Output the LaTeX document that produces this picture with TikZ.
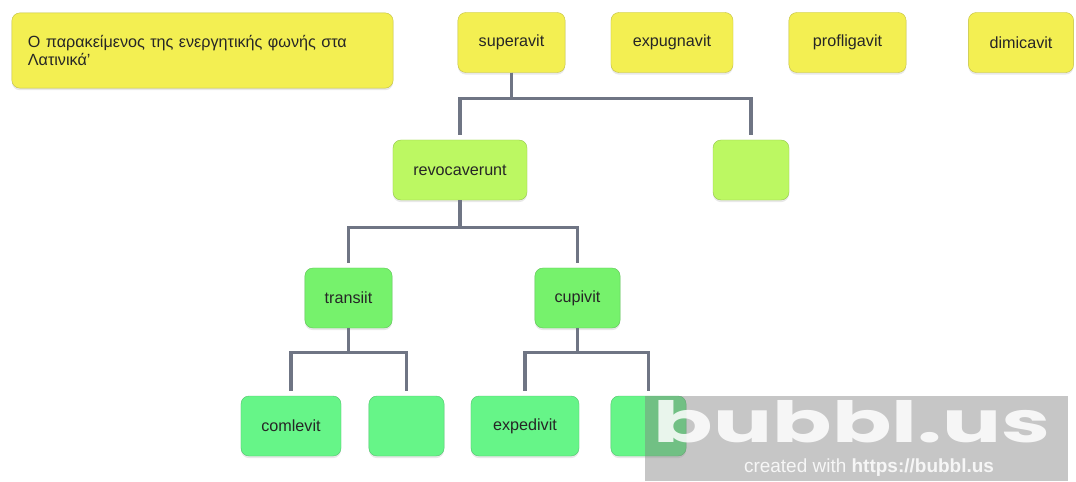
\documentclass[tikz,border=0pt]{standalone}
\usepackage{fontspec}
\setmainfont{Liberation Sans}
\newfontfamily\logofont{Poppins}
\usetikzlibrary{shadows}
\definecolor{yellowbox}{HTML}{F3EF52}
\definecolor{limebox}{HTML}{BCF862}
\definecolor{greenbox}{HTML}{76F26C}
\definecolor{mintbox}{HTML}{66F588}
\definecolor{linkgray}{HTML}{6F7584}
\tikzset{
  bubble/.style={draw=#1!80!black,line width=0.3pt,fill=#1,rounded corners=0.2cm,
    minimum height=1.5cm,font=\fontsize{11.5}{12.5}\selectfont,text=black!85,
    drop shadow={opacity=0.18,shadow xshift=0pt,shadow yshift=-1.5pt}},
  link/.style={draw=linkgray,line width=2.2pt,shorten >=0.12cm},
}
\begin{document}
\begin{tikzpicture}[x=0.025cm,y=-0.025cm]
                \useasboundingbox (0,0) rectangle (1076,481);
                %% top row
                \node[bubble=yellowbox,minimum width=9.53cm,minimum height=1.88cm,inner xsep=0.4cm,text width=8.73cm,align=left] (title) at (202.5,50.5) {Ο παρακείμενος της ενεργητικής φωνής στα\\Λατινικά'};
                \node[bubble=yellowbox,minimum width=2.68cm] (superavit) at (511.5,42.5) {superavit};
                \node[bubble=yellowbox,minimum width=3.05cm] (expugnavit) at (672,42.5) {expugnavit};
                \node[bubble=yellowbox,minimum width=2.93cm] (profligavit) at (847.5,42.5) {profligavit};
                \node[bubble=yellowbox,minimum width=2.63cm] (dimicavit) at (1021,42.5) {dimicavit};
                %% second level
                \node[bubble=limebox,minimum width=3.35cm] (revocaverunt) at (460,170) {revocaverunt};
                \node[bubble=limebox,minimum width=1.9cm] (blankA) at (751,170) {};
                %% third level
                \node[bubble=greenbox,minimum width=2.18cm] (transiit) at (348.5,298) {transiit};
                \node[bubble=greenbox,minimum width=2.13cm] (cupivit) at (577.5,298) {cupivit};
                %% fourth level
                \node[bubble=mintbox,minimum width=2.5cm] (comlevit) at (291,426) {comlevit};
                \node[bubble=mintbox,minimum width=1.88cm] (blankB) at (406.5,426) {};
                \node[bubble=mintbox,minimum width=2.7cm] (expedivit) at (525,426) {expedivit};
                \node[bubble=mintbox,minimum width=1.88cm] (blankC) at (648.5,426) {};
                %% links
                \draw[link] (superavit.south) -- ++(0,26) -| (revocaverunt.north);
                \draw[link] (superavit.south) -- ++(0,26) -| (blankA.north);
                \draw[link] (revocaverunt.south) -- ++(0,27) -| (transiit.north);
                \draw[link] (revocaverunt.south) -- ++(0,27) -| (cupivit.north);
                \draw[link] (transiit.south) -- ++(0,24) -| (comlevit.north);
                \draw[link] (transiit.south) -- ++(0,24) -| (blankB.north);
                \draw[link] (cupivit.south) -- ++(0,24) -| (expedivit.north);
                \draw[link] (cupivit.south) -- ++(0,24) -| (blankC.north);
                %% watermark
                \fill[gray,opacity=0.45] (645,396) rectangle (1068,481);
                \node[text=white,text opacity=0.85,inner sep=0pt] (logo) at (852,422) {\resizebox{9.9cm}{1.05cm}{\logofont\bfseries bubbl.us}};
                \node[text=white,text opacity=0.85,inner sep=0pt,font=\fontsize{13.5}{15}\selectfont] (credit) at (869,468) {created with \textbf{https://bubbl.us}};
            \end{tikzpicture}
\end{document}
